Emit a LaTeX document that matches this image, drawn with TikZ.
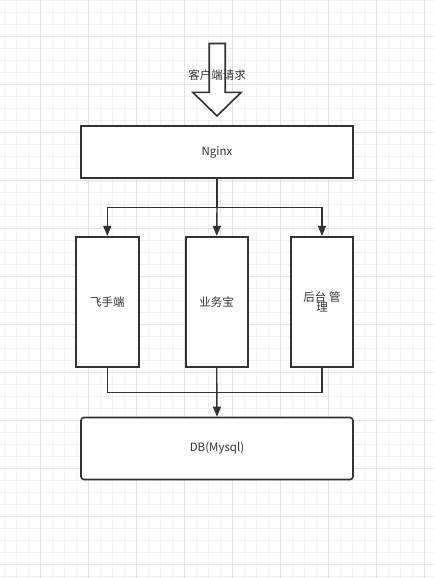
\documentclass[tikz,border=0pt]{standalone}
\usepackage{fontspec}
\setmainfont{Noto Sans CJK SC}
\usetikzlibrary{arrows.meta}
\definecolor{ink}{HTML}{333333}
\definecolor{gridminor}{HTML}{F1F1F1}
\definecolor{gridmajor}{HTML}{E3E3E3}
\tikzset{
  box/.style={draw=ink, line width=1.6pt, fill=white, inner sep=0pt, text=ink,
    font=\fontsize{11.5}{11}\selectfont, align=center},
  conn/.style={draw=ink, line width=1.4pt},
  tip/.style={-{Triangle[length=10pt,width=8pt]}},
}
\begin{document}
\begin{tikzpicture}[x=1pt,y=-1pt]
\useasboundingbox (0,0) rectangle (434,578);
\fill[white] (0,0) rectangle (434,578);
% grid
\foreach \i in {0,...,36} {\draw[gridminor, line width=0.8pt] ({4.7+12*\i},0) -- ({4.7+12*\i},578);}
\foreach \i in {0,...,48} {\draw[gridminor, line width=0.8pt] (0,{0.7+12*\i}) -- (434,{0.7+12*\i});}
\foreach \i in {0,...,8} {\draw[gridmajor, line width=0.8pt] ({40.7+48*\i},0) -- ({40.7+48*\i},578);}
\foreach \i in {0,...,11} {\draw[gridmajor, line width=0.8pt] (0,{36.7+48*\i}) -- (434,{36.7+48*\i});}
% big arrow
\draw[ink, fill=white, line width=1.6pt, line join=miter]
  (209.2,43.5) -- (225.2,43.5) -- (225.2,92.3) -- (241.2,92.3) -- (217,116)
  -- (192.8,92.3) -- (209.2,92.3) -- cycle;
\node[text=ink, font=\fontsize{11.5}{12}\selectfont, inner sep=0pt] (req) at (217,75.5) {客户端请求};
% nodes
\node[box, minimum width=272pt, minimum height=52pt] (nginx) at (217,152) {Nginx};
\node[box, minimum width=63pt, minimum height=130pt] (fs) at (107.3,301.7) {飞手端};
\node[box, minimum width=62pt, minimum height=130pt] (yw) at (216.7,301.7) {业务宝};
\node[box, minimum width=62pt, minimum height=130pt] (ht) at (322,301.7) {后台 管\\[-1pt]理};
\node[box, rounded corners=3pt, minimum width=272pt, minimum height=62pt] (db) at (217,448.5) {DB(Mysql)};
% connectors
\coordinate (j1) at (217,207.7);
\coordinate (j2) at (217,392.7);
\draw[conn] (nginx.south) -- (j1);
\draw[conn, tip] (j1) -- (yw.north);
\draw[conn, tip] (j1) -| (fs.north);
\draw[conn, tip] (j1) -| (ht.north);
\draw[conn] (fs.south) |- (j2);
\draw[conn] (ht.south) |- (j2);
\draw[conn, tip] (yw.south) -- (db.north);
\end{tikzpicture}
\end{document}
